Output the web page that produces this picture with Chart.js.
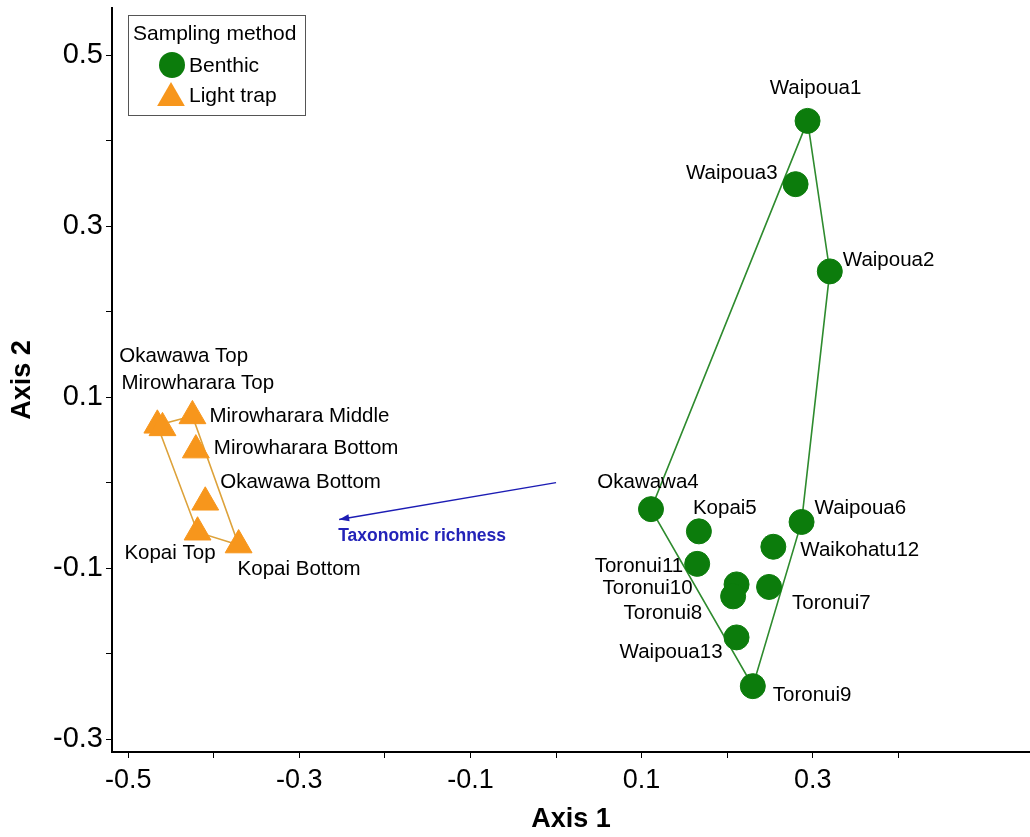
<!DOCTYPE html>
<html><head><meta charset="utf-8">
<script src="https://cdn.jsdelivr.net/npm/chart.js@4.4.0/dist/chart.umd.min.js"></script>
<style>html,body{margin:0;padding:0;background:#fff;overflow:hidden;}#wrap{width:1030px;height:837px;}canvas{display:block;}</style>
</head><body><div id="wrap"><canvas id="c" width="1030" height="837"></canvas></div>
<script>
const benthicNames = ['Waipoua1','Waipoua3','Waipoua2','Okawawa4','Kopai5','Waipoua6','Waikohatu12','Toronui11','Toronui10','Toronui8','Toronui7','Waipoua13','Toronui9'];
const benthicX = [0.294, 0.280, 0.320, 0.111, 0.167, 0.287, 0.254, 0.165, 0.211, 0.207, 0.249, 0.211, 0.230];
const benthicY = [0.423, 0.349, 0.247, -0.031, -0.057, -0.046, -0.075, -0.095, -0.119, -0.133, -0.122, -0.181, -0.238];
const lightNames = ['Okawawa Top','Mirowharara Top','Mirowharara Middle','Mirowharara Bottom','Okawawa Bottom','Kopai Top','Kopai Bottom'];
const lightX = [-0.466, -0.460, -0.425, -0.421, -0.410, -0.419, -0.371];
const lightY = [0.067, 0.064, 0.078, 0.038, -0.023, -0.058, -0.073];
const benthicHull = ['Waipoua1','Waipoua2','Waipoua6','Toronui9','Okawawa4','Waipoua1'];
const lightHull = ['Okawawa Top','Mirowharara Middle','Kopai Bottom','Kopai Top','Okawawa Top'];
const arrowX = [0, -0.2535];
const arrowY = [0, -0.043];
const arrowLabel = 'Taxonomic richness';
const xTicks = [-0.5, -0.4, -0.3, -0.2, -0.1, 0, 0.1, 0.2, 0.3, 0.4];
const xTickLabels = ['-0.5', '', '-0.3', '', '-0.1', '', '0.1', '', '0.3', ''];
const yTicks = [-0.3, -0.2, -0.1, 0, 0.1, 0.2, 0.3, 0.4, 0.5];
const yTickLabels = ['-0.3', '', '-0.1', '', '0.1', '', '0.3', '', '0.5'];
const legendTitle = 'Sampling method';
const seriesNames = ['Benthic', 'Light trap'];

const labelPlace = {
  'Waipoua1': [8, -33, 'center'], 'Waipoua3': [-18, -11, 'right'], 'Waipoua2': [13, -11, 'left'],
  'Okawawa4': [-3, -27, 'center'], 'Kopai5': [-6, -23, 'left'], 'Waipoua6': [13, -14, 'left'],
  'Waikohatu12': [27, 4, 'left'], 'Toronui11': [-14, 2, 'right'], 'Toronui10': [-44, 4, 'right'],
  'Toronui8': [-31, 17, 'right'], 'Toronui7': [23, 16, 'left'], 'Waipoua13': [-14, 15, 'right'],
  'Toronui9': [20, 9, 'left'],
  'Okawawa Top': [-38, -69, 'left'], 'Mirowharara Top': [-41, -45, 'left'],
  'Mirowharara Middle': [17, 0, 'left'], 'Mirowharara Bottom': [18, -2, 'left'],
  'Okawawa Bottom': [15, -20, 'left'], 'Kopai Top': [18, 21, 'right'], 'Kopai Bottom': [-1, 24, 'left']
};

const GREEN = '#0C7C0C', GREEN_LINE = '#2E8B2E', ORANGE = '#F7961C', ORANGE_LINE = '#DDA23A', BLUE = '#1C1CB4';
const FONT = "'Liberation Sans', Arial, sans-serif";

const benthicPts = benthicNames.map((n, i) => ({x: benthicX[i], y: benthicY[i], name: n}));
const lightPts = lightNames.map((n, i) => ({x: lightX[i], y: lightY[i], name: n}));
const hullFrom = (names, allNames, xs, ys) => names.map(n => { const i = allNames.indexOf(n); return {x: xs[i], y: ys[i]}; });
const zeroPad = s => { s.paddingTop = 0; s.paddingBottom = 0; s.paddingLeft = 0; s.paddingRight = 0; };

const annot = {
  id: 'annot',
  afterDatasetsDraw(chart) {
    const ctx = chart.ctx, xs = chart.scales.x, ys = chart.scales.y;
    ctx.save();
    ctx.font = '20.5px ' + FONT;
    ctx.fillStyle = '#000';
    ctx.textBaseline = 'middle';
    [...benthicPts, ...lightPts].forEach(p => {
      const pl = labelPlace[p.name] || [10, 0, 'left'];
      ctx.textAlign = pl[2];
      ctx.fillText(p.name, xs.getPixelForValue(p.x) + pl[0], ys.getPixelForValue(p.y) + pl[1]);
    });
    const x0 = xs.getPixelForValue(arrowX[0]), y0 = ys.getPixelForValue(arrowY[0]);
    const x1 = xs.getPixelForValue(arrowX[1]), y1 = ys.getPixelForValue(arrowY[1]);
    const a = Math.atan2(y1 - y0, x1 - x0);
    const L = 10, W = 3.5;
    ctx.fillStyle = BLUE;
    ctx.beginPath();
    ctx.moveTo(x1, y1);
    ctx.lineTo(x1 - L * Math.cos(a) + W * Math.sin(a), y1 - L * Math.sin(a) - W * Math.cos(a));
    ctx.lineTo(x1 - L * Math.cos(a) - W * Math.sin(a), y1 - L * Math.sin(a) + W * Math.cos(a));
    ctx.closePath();
    ctx.fill();
    ctx.font = 'bold 17.5px ' + FONT;
    ctx.textAlign = 'left';
    ctx.fillStyle = '#2323B8';
    ctx.fillText(arrowLabel, x1 - 1, y1 + 17);
    // legend
    ctx.fillStyle = '#fff';
    ctx.fillRect(128, 15, 178, 101);
    ctx.strokeStyle = '#555';
    ctx.lineWidth = 1;
    ctx.strokeRect(128.5, 15.5, 177, 100);
    ctx.fillStyle = '#000';
    ctx.font = '21px ' + FONT;
    ctx.textAlign = 'left';
    ctx.fillText(legendTitle, 133, 34);
    ctx.fillText(seriesNames[0], 189, 66);
    ctx.fillText(seriesNames[1], 189, 96);
    ctx.fillStyle = GREEN;
    ctx.beginPath(); ctx.arc(172, 65, 13, 0, Math.PI * 2); ctx.fill();
    ctx.fillStyle = ORANGE;
    const tr = 16, tcx = 171, tcy = 98;
    ctx.beginPath();
    ctx.moveTo(tcx, tcy - tr);
    ctx.lineTo(tcx + tr * Math.sin(2 * Math.PI / 3), tcy + tr / 2);
    ctx.lineTo(tcx - tr * Math.sin(2 * Math.PI / 3), tcy + tr / 2);
    ctx.closePath(); ctx.fill();
    ctx.restore();
  }
};

new Chart(document.getElementById('c'), {
  type: 'scatter',
  data: {
    datasets: [
      {label: 'Benthic', data: benthicPts, pointStyle: 'circle', pointRadius: 12.5, pointHoverRadius: 12.5,
       backgroundColor: GREEN, borderColor: GREEN, borderWidth: 1, order: 1},
      {label: 'Light trap', data: lightPts, pointStyle: 'triangle', pointRadius: 15.5, pointHoverRadius: 15.5,
       backgroundColor: ORANGE, borderColor: ORANGE, borderWidth: 1, order: 1},
      {label: 'hullB', data: hullFrom(benthicHull, benthicNames, benthicX, benthicY), showLine: true, pointRadius: 0,
       borderColor: GREEN_LINE, borderWidth: 1.6, fill: false, order: 3},
      {label: 'hullL', data: hullFrom(lightHull, lightNames, lightX, lightY), showLine: true, pointRadius: 0,
       borderColor: ORANGE_LINE, borderWidth: 1.6, fill: false, order: 3},
      {label: 'arrow', data: arrowX.map((x, i) => ({x, y: arrowY[i]})), showLine: true, pointRadius: 0,
       borderColor: BLUE, borderWidth: 1.5, fill: false, order: 2}
    ]
  },
  options: {
    responsive: false, animation: false, devicePixelRatio: 1,
    layout: {autoPadding: false, padding: {top: 8, right: 0, left: 0, bottom: 0}},
    plugins: {legend: {display: false}, tooltip: {enabled: false}},
    events: [],
    scales: {
      x: {
        type: 'linear', min: -0.519, max: 0.554,
        afterBuildTicks: s => { s.ticks = xTicks.map(v => ({value: v})); },
        afterFit: s => { s.height = 85; zeroPad(s); },
        ticks: {callback: (v, i) => xTickLabels[i], autoSkip: false, maxRotation: 0, color: '#000',
                font: {size: 27, family: FONT}, padding: 6},
        grid: {drawOnChartArea: false, drawTicks: true, tickLength: 6, color: '#000', lineWidth: 1},
        border: {display: true, color: '#000', width: 2},
        title: {display: true, text: 'Axis 1', color: '#000', font: {size: 27, weight: 'bold', family: FONT}, padding: {top: 0, bottom: 1}}
      },
      y: {
        type: 'linear', min: -0.315, max: 0.555,
        afterBuildTicks: s => { s.ticks = yTicks.map(v => ({value: v})); },
        afterFit: s => { s.width = 112; zeroPad(s); },
        ticks: {callback: (v, i) => yTickLabels[i], autoSkip: false, color: '#000',
                font: {size: 29, family: FONT}, padding: 3},
        grid: {drawOnChartArea: false, drawTicks: true, tickLength: 6, color: '#000', lineWidth: 1},
        border: {display: true, color: '#000', width: 2},
        title: {display: true, text: 'Axis 2', color: '#000', font: {size: 27, weight: 'bold', family: FONT}, padding: {top: 6, bottom: 0}}
      }
    }
  },
  plugins: [annot]
});
</script></body></html>
